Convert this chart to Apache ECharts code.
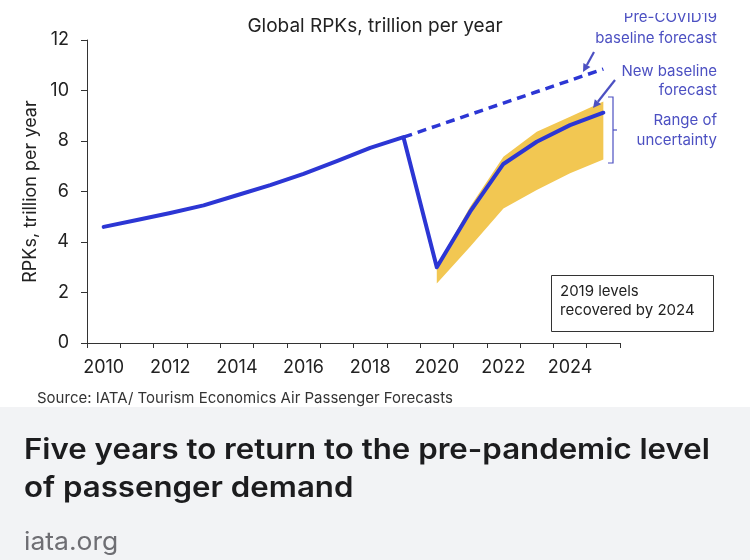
<!DOCTYPE html>
<html>
<head>
<meta charset="utf-8">
<script src="https://cdn.jsdelivr.net/npm/echarts@6/dist/echarts.min.js"></script>
<style>
html,body{margin:0;padding:0;background:#fff;}
#chart{width:750px;height:560px;}
</style>
</head>
<body>
<div id="chart"></div>
<script>
const years = ['2010','2011','2012','2013','2014','2015','2016','2017','2018','2019','2020','2021','2022','2023','2024','2025'];
const rpkActualAndNew = [4.6, 4.87, 5.15, 5.45, 5.85, 6.25, 6.7, 7.2, 7.73, 8.15, 3.0, 5.2, 7.09, 7.97, 8.63, 9.12];
const preCovidForecast = [null, null, null, null, null, null, null, null, null, 8.15, 8.6, 9.05, 9.5, 9.95, 10.4, 10.85];
const bandLow  = [null, null, null, null, null, null, null, null, null, null, 2.36, 3.81, 5.33, 6.06, 6.72, 7.27];
const bandHigh = [null, null, null, null, null, null, null, null, null, null, 3.05, 5.4, 7.38, 8.37, 8.96, 9.56];
const yTicks = [0, 2, 4, 6, 8, 10, 12];

const bandDiff = bandHigh.map((v, i) => (v == null || bandLow[i] == null) ? null : +(v - bandLow[i]).toFixed(3));

const BLUE = '#2c36d4';
const ANN = '#4c50c2';
const GOLD = '#f2c752';
const FONT = 'Inter, "Liberation Sans", sans-serif';

const chart = echarts.init(document.getElementById('chart'), null, {renderer: 'canvas'});

const annText = (x, y, text) => ({
  type: 'text', x: x, y: y, z: 10,
  style: {text: text, fill: ANN, font: '15px ' + FONT, textAlign: 'right', textVerticalAlign: 'middle'}
});

chart.setOption({
  backgroundColor: '#ffffff',
  animation: false,
  title: {
    text: 'Global RPKs, trillion per year',
    left: 'center', top: 12,
    textStyle: {color: '#222', fontSize: 19, fontWeight: 'normal', fontFamily: FONT}
  },
  grid: {left: 87, right: 130, top: 40, bottom: 217, containLabel: false},
  xAxis: {
    type: 'category',
    data: years,
    boundaryGap: true,
    axisLine: {lineStyle: {color: '#333', width: 1}},
    axisTick: {show: true, interval: 0, length: 5, lineStyle: {color: '#333'}},
    axisLabel: {interval: 1, color: '#222', fontSize: 18, fontFamily: FONT, margin: 16}
  },
  yAxis: {
    type: 'value',
    min: yTicks[0], max: yTicks[yTicks.length - 1], interval: 2,
    name: 'RPKs, trillion per year',
    nameLocation: 'middle',
    nameGap: 46,
    nameTextStyle: {color: '#222', fontSize: 18, fontFamily: FONT},
    axisLine: {show: true, lineStyle: {color: '#333', width: 1}},
    axisTick: {show: true, length: 6, lineStyle: {color: '#333'}},
    axisLabel: {color: '#222', fontSize: 18, fontFamily: FONT, margin: 18},
    splitLine: {show: false}
  },
  series: [
    {
      name: 'bandBase', type: 'line', stack: 'band', data: bandLow,
      symbol: 'none', lineStyle: {opacity: 0}, silent: true, z: 1
    },
    {
      name: 'Range of uncertainty', type: 'line', stack: 'band', data: bandDiff,
      symbol: 'none', lineStyle: {opacity: 0}, areaStyle: {color: GOLD, opacity: 1}, silent: true, z: 1
    },
    {
      name: 'Pre-COVID19 baseline forecast', type: 'line', data: preCovidForecast,
      symbol: 'none', lineStyle: {color: BLUE, width: 3.5, type: [9, 6]}, z: 3
    },
    {
      name: 'RPKs', type: 'line', data: rpkActualAndNew,
      symbol: 'none', smooth: false, lineStyle: {color: BLUE, width: 4, join: 'round', cap: 'round'}, z: 4
    }
  ],
  graphic: [
    {type: 'rect', shape: {x: 0, y: 407, width: 750, height: 153}, style: {fill: '#f2f3f5'}, z: 0},
    {type: 'text', x: 37, y: 398, style: {text: 'Source: IATA/ Tourism Economics Air Passenger Forecasts', fill: '#333', font: '15px ' + FONT, textVerticalAlign: 'middle'}},
    {type: 'text', x: 24, y: 451, scaleX: 1.115, style: {text: 'Five years to return to the pre-pandemic level', fill: '#1c1c1e', font: '600 28px Inter, Roboto, sans-serif', textVerticalAlign: 'middle'}},
    {type: 'text', x: 24, y: 489, scaleX: 1.115, style: {text: 'of passenger demand', fill: '#1c1c1e', font: '600 28px Inter, Roboto, sans-serif', textVerticalAlign: 'middle'}},
    {type: 'text', x: 24, y: 542, scaleX: 1.06, style: {text: 'iata.org', fill: '#6e6e73', font: '25px Inter, Roboto, sans-serif', textVerticalAlign: 'middle'}},
    annText(717, 17, 'Pre-COVID19'),
    annText(717, 38, 'baseline forecast'),
    annText(717, 71, 'New baseline'),
    annText(717, 90, 'forecast'),
    annText(717, 120, 'Range of'),
    annText(717, 140, 'uncertainty'),
    {type: 'rect', shape: {x: 580, y: 0, width: 150, height: 13}, style: {fill: '#fff'}, z: 11},
    {type: 'line', shape: {x1: 594, y1: 52, x2: 586.9, y2: 65}, style: {stroke: ANN, lineWidth: 2.2}, z: 10},
    {type: 'polygon', shape: {points: [[583, 72], [590.4, 66.9], [583.4, 63.1]]}, style: {fill: ANN}, z: 10},
    {type: 'line', shape: {x1: 615, y1: 80, x2: 597.9, y2: 101.7}, style: {stroke: ANN, lineWidth: 2.2}, z: 10},
    {type: 'polygon', shape: {points: [[593, 108], [601.1, 104.2], [594.8, 99.2]]}, style: {fill: ANN}, z: 10},
    {type: 'polyline', shape: {points: [[608, 97], [613, 97], [613, 163], [608, 163]]}, style: {stroke: ANN, lineWidth: 1.2, fill: null}, z: 10},
    {type: 'line', shape: {x1: 613, y1: 130, x2: 617, y2: 130}, style: {stroke: ANN, lineWidth: 1.2}, z: 10},
    {type: 'rect', shape: {x: 551.5, y: 275.5, width: 162, height: 56}, style: {fill: '#fff', stroke: '#333', lineWidth: 1}, z: 10},
    {type: 'text', x: 560, y: 291, style: {text: '2019 levels', fill: '#222', font: '15px ' + FONT, textVerticalAlign: 'middle'}, z: 11},
    {type: 'text', x: 560, y: 310, style: {text: 'recovered by 2024', fill: '#222', font: '15px ' + FONT, textVerticalAlign: 'middle'}, z: 11}
  ]
});
</script>
</body>
</html>
